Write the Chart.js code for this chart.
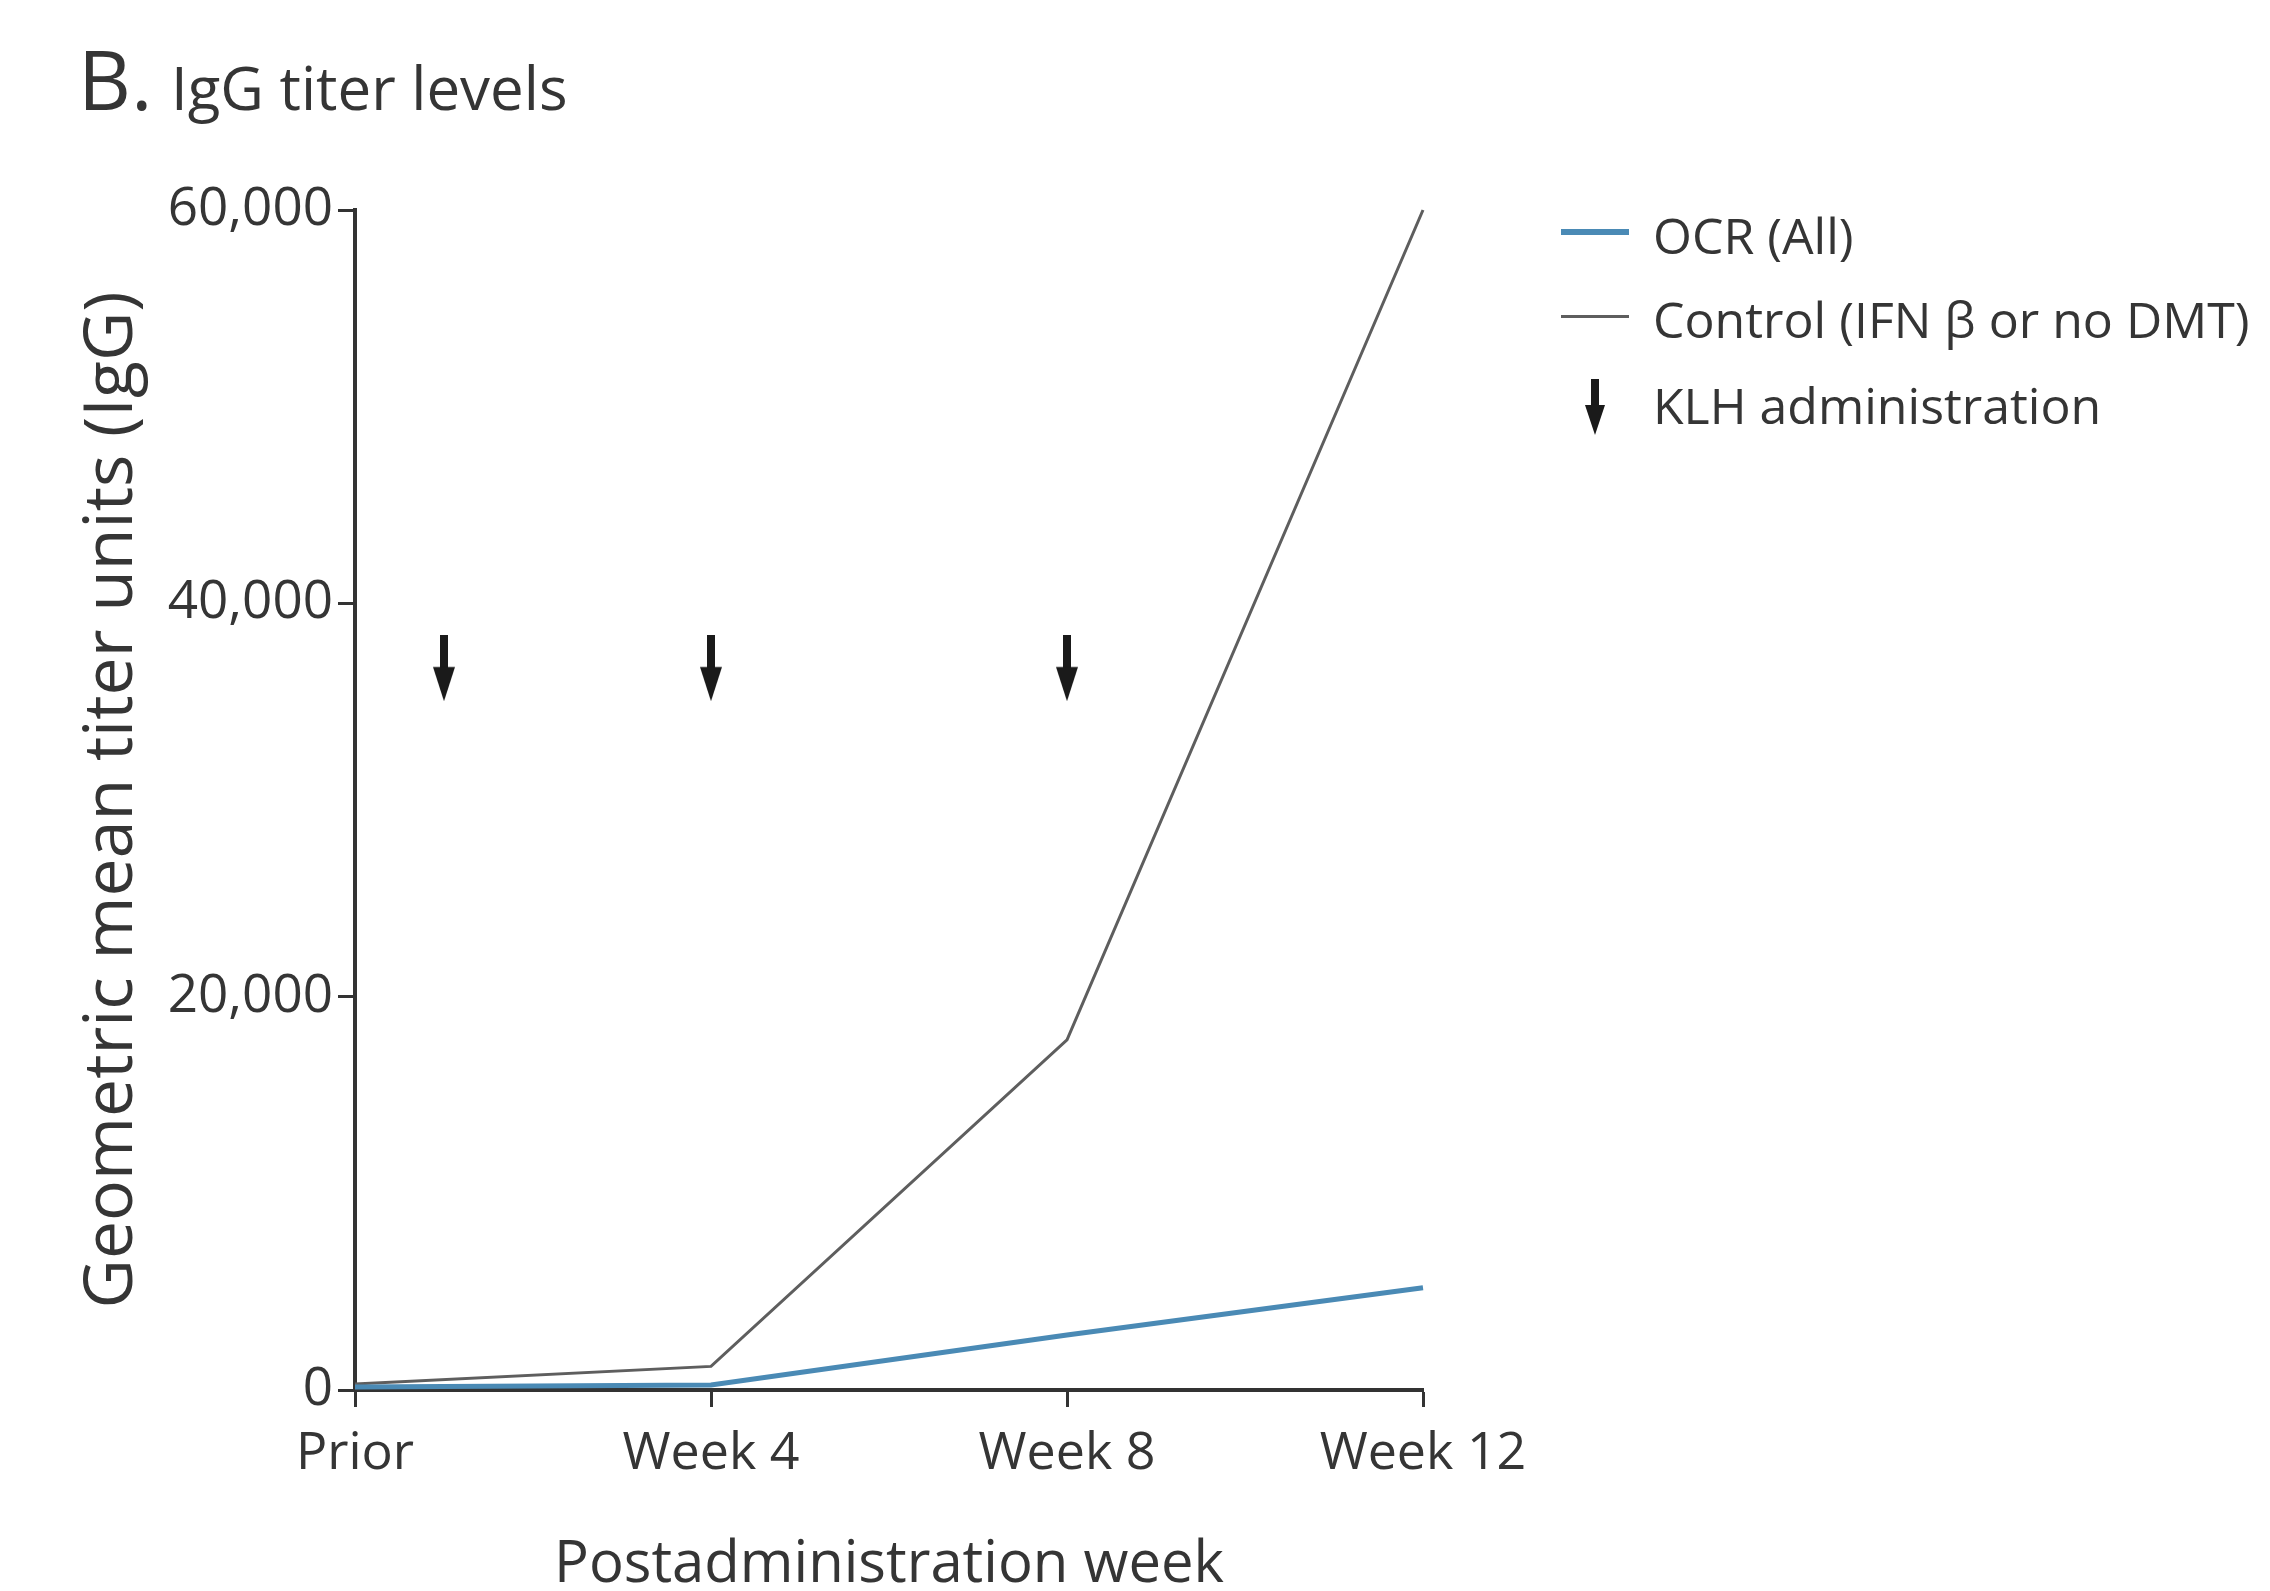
<!DOCTYPE html>
<html><head><meta charset="utf-8">
<script src="https://cdn.jsdelivr.net/npm/chart.js@4.4.0/dist/chart.umd.min.js"></script>
<style>
html,body{margin:0;padding:0;background:#fff;width:2270px;height:1591px;overflow:hidden;font-family:"Open Sans",sans-serif;color:#353535}
#wrap{position:absolute;left:0;top:0;width:2270px;height:1591px}
.t{position:absolute;white-space:nowrap;line-height:1}
.ln{position:absolute}
</style></head><body>
<div id="wrap"><canvas id="c" width="2270" height="1591"></canvas></div>
<div class="t" style="left:78px;top:37px;font-size:82px">B.</div>
<div class="t" style="left:171px;top:57px;font-size:60px">IgG titer levels</div>

<div class="ln" style="left:1561px;top:229px;width:68px;height:6px;background:#4a8ab5"></div>
<div class="t" style="left:1653px;top:210px;font-size:50px">OCR (All)</div>
<div class="ln" style="left:1561px;top:315px;width:68px;height:3px;background:#5e5e5e"></div>
<div class="t" style="left:1653px;top:294px;font-size:50px">Control (IFN β or no DMT)</div>
<svg style="position:absolute;left:1585px;top:379px" width="20" height="56"><rect x="6" y="0" width="8" height="30" fill="#1a1a1a"/><polygon points="0,26 20,26 10,56" fill="#1a1a1a"/></svg>
<div class="t" style="left:1653px;top:380px;font-size:50px">KLH administration</div>

<script>
const weeks = [0, 4, 8, 12];
const xTickLabels = ['Prior', 'Week 4', 'Week 8', 'Week 12'];
const ocrValues = [150, 250, 2800, 5200];
const controlValues = [300, 1200, 17800, 60000];
const klhWeeks = [1, 4, 8];
const klhLevel = [36700, 36700, 36700];
const yTicks = [0, 20000, 40000, 60000];

function makeArrow(w, h) {
  const c = document.createElement('canvas');
  c.width = w; c.height = h;
  const g = c.getContext('2d');
  g.fillStyle = '#1a1a1a';
  const sw = 8;
  g.fillRect(w / 2 - sw / 2, 0, sw, h * 0.55);
  g.beginPath();
  g.moveTo(0, h * 0.48);
  g.lineTo(w, h * 0.48);
  g.lineTo(w / 2, h);
  g.closePath();
  g.fill();
  return c;
}
const arrowImg = makeArrow(22, 66);

const txt = '#353535';
new Chart(document.getElementById('c'), {
  type: 'line',
  data: {
    datasets: [
      {
        label: 'OCR (All)',
        data: weeks.map((w, i) => ({x: w, y: ocrValues[i]})),
        borderColor: '#4a8ab5', borderWidth: 5, pointRadius: 0, tension: 0, clip: false, order: 0
      },
      {
        label: 'Control (IFN β or no DMT)',
        data: weeks.map((w, i) => ({x: w, y: controlValues[i]})),
        borderColor: '#5e5e5e', borderWidth: 3, pointRadius: 0, tension: 0, clip: false, order: 1
      },
      {
        label: 'KLH administration',
        data: klhWeeks.map((w, i) => ({x: w, y: klhLevel[i]})),
        showLine: false, pointStyle: arrowImg, pointRadius: 10, clip: false, order: 0
      }
    ]
  },
  options: {
    responsive: false, animation: false, events: [],
    layout: {padding: {left: 0, top: 210, right: 847, bottom: 0}},
    plugins: {legend: {display: false}, title: {display: false}, tooltip: {enabled: false}},
    scales: {
      x: {
        type: 'linear', min: 0, max: 12,
        afterFit: s => { s.height = 201; },
        afterBuildTicks: s => { s.ticks = weeks.map(v => ({value: v})); },
        grid: {drawOnChartArea: false, drawTicks: true, tickLength: 17, tickWidth: 3, tickColor: '#333'},
        border: {display: true, color: '#333', width: 4},
        ticks: {
          padding: 16, color: txt, font: {family: 'Open Sans', size: 52, lineHeight: 1.2},
          callback: (v) => xTickLabels[weeks.indexOf(v)], maxRotation: 0, autoSkip: false
        },
        title: {display: true, text: 'Postadministration week', color: txt,
          font: {family: 'Open Sans', size: 58, lineHeight: 1}, padding: {top: 0, bottom: -3}}
      },
      y: {
        type: 'linear', min: 0, max: 60000,
        afterFit: s => { s.width = 355; },
        afterBuildTicks: s => { s.ticks = yTicks.map(v => ({value: v})); },
        grid: {drawOnChartArea: false, drawTicks: true, tickLength: 17, tickWidth: 3, tickColor: '#333'},
        border: {display: true, color: '#333', width: 4},
        ticks: {
          padding: 5, color: txt, font: {family: 'Open Sans', size: 53},
          callback: v => v.toLocaleString('en-US')
        },
        title: {display: true, text: 'Geometric mean titer units (IgG)', color: txt,
          font: {family: 'Open Sans', size: 68, lineHeight: 1}, padding: {top: 79, bottom: 0}}
      }
    }
  }
});
</script>
</body></html>
